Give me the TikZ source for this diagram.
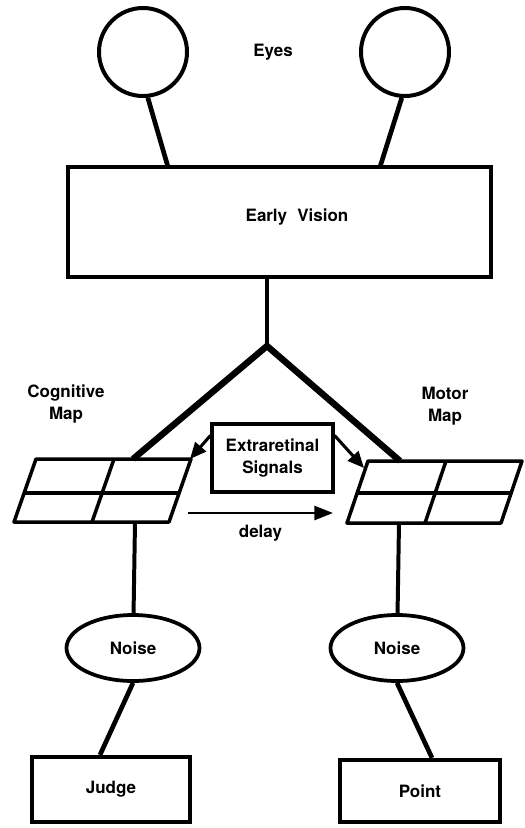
\documentclass[tikz,border=0pt]{standalone}
\usepackage{fontspec}
\setmainfont{TeX Gyre Heros}
\usetikzlibrary{arrows.meta,calc,shapes.geometric}

\begin{document}
\begin{tikzpicture}
	[
		x=0.03cm, y=-0.03cm,
		every node/.style = {font=\fontsize{14.5}{19}\selectfont\bfseries},
		eye/.style = {shape=circle, draw, line width=3.4pt, minimum size=2.64cm, inner sep=0pt},
		box/.style = {shape=rectangle, draw, line width=3.6pt, inner sep=0pt},
		noise/.style = {shape=ellipse, draw, line width=3.2pt, minimum width=3.99cm, minimum height=1.98cm, inner sep=0pt},
		link/.style = {line width=4pt},
		fork/.style = {line width=5.5pt},
		grid/.style = {line width=3pt, line join=round},
		signal/.style = {line width=2.6pt, -{Triangle[length=14pt, width=12pt]}}
	]
	
	\useasboundingbox (0,0) rectangle (524,828);
	
	\node [eye] (eyeL) at (143,52) {};
	\node [eye] (eyeR) at (405,52) {};
	\node (eyes) at (273,52) {Eyes};
	
	\node [box, minimum width=12.69cm, minimum height=3.3cm] (vision) at (279.5,222) {};
	\node (visionname) at (297,217) {Early\hspace{0.6em}Vision};
	
	\coordinate (visionL) at (168,167);
	\coordinate (visionR) at (380,167);
	\coordinate (visionB) at (267,277);
	\coordinate (apex) at (267,346);
	
	\draw [link] (eyeL.-84) -- (visionL);
	\draw [link] (eyeR.-94) -- (visionR);
	\draw [link, line width=3pt] (visionB) -- (apex);
	
	% cognitive map
	\def\x{14}
	\def\y{522}
	
	\draw [grid] (\x,\y) -- ({\x + 155},\y) -- ({\x + 177},{\y - 63}) -- ({\x + 22},{\y - 63}) -- cycle;
	\draw [grid] ({\x + 10},{\y - 29}) -- ({\x + 165},{\y - 29});
	\draw [grid] ({\x + 78},\y) -- ({\x + 100},{\y - 63});
	
	\coordinate (cogT) at (133,459);
	\coordinate (cogB) at (135,522);
	\coordinate (cogC) at (190,459);
	
	% motor map
	\def\x{347}
	\def\y{523}
	
	\draw [grid] (\x,\y) -- ({\x + 154},\y) -- ({\x + 175},{\y - 62}) -- ({\x + 21},{\y - 62}) -- cycle;
	\draw [grid] ({\x + 10},{\y - 30}) -- ({\x + 164},{\y - 30});
	\draw [grid] ({\x + 78},\y) -- ({\x + 99},{\y - 62});
	
	\coordinate (motT) at (400,461);
	\coordinate (motB) at (399,523);
	\coordinate (motC) at (364,468);
	
	\draw [fork] (cogT) -- (apex) -- (motT);
	
	\node [align=center] (cogname) at (66,404) {Cognitive\\Map};
	\node [align=center] (motname) at (445,406) {Motor\\Map};
	
	\node [box, line width=2.6pt, minimum width=3.63cm, minimum height=2.04cm, align=center] (signals) at (272.5,458) {Extraretinal\\Signals};
	
	\draw [signal] (signals.160) -- (cogC);
	\draw [signal] (signals.20) -- (motC);
	
	\coordinate (delayS) at (188,513);
	\coordinate (delayE) at (333,513);
	\draw [signal, line width=2.2pt, -{Triangle[length=16pt, width=12pt]}] (delayS) -- (delayE) node [midway, yshift=-17pt] {delay};
	
	\node [noise] (noiseL) at (133,648) {Noise};
	\node [noise] (noiseR) at (397,648) {Noise};
	
	\draw [link, line width=3.4pt] (cogB) -- (noiseL);
	\draw [link, line width=3.4pt] (motB) -- (noiseR);
	
	\node [box, minimum width=4.74cm, minimum height=1.95cm] (judge) at (111,789.5) {Judge};
	\node [box, minimum width=4.8cm, minimum height=1.86cm] (point) at (420,791) {Point};
	
	\draw [link] (noiseL.south) -- ($(judge.north) + (-11,0)$);
	\draw [link] (noiseR.south) -- ($(point.north) + (12,0)$);
	
\end{tikzpicture}
\end{document}
